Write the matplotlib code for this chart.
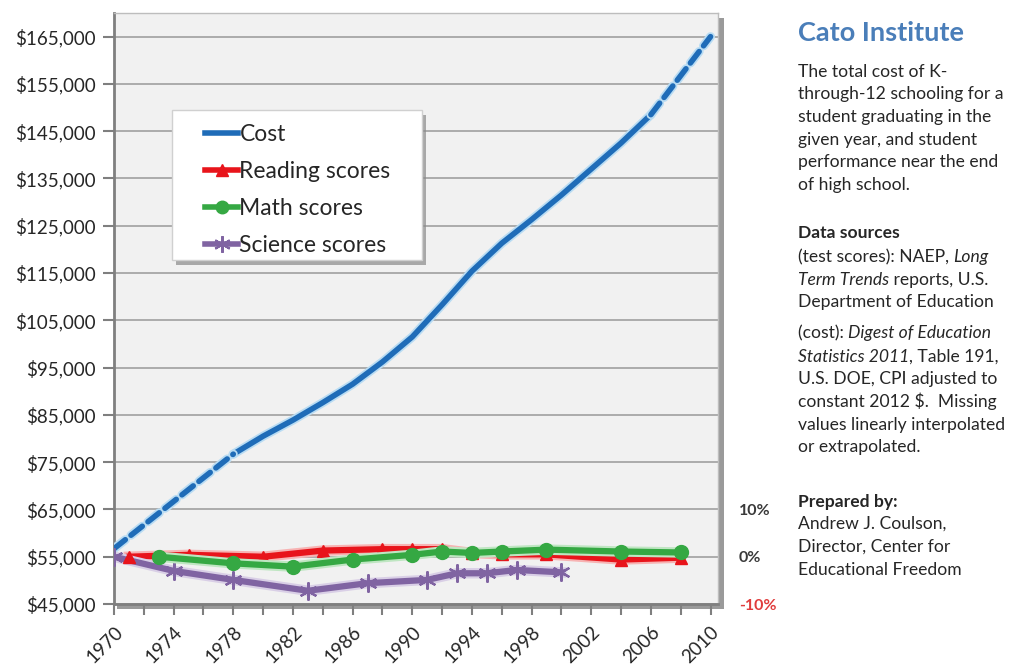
import matplotlib
matplotlib.use("Agg")
import matplotlib.pyplot as plt
import matplotlib.patheffects as pe
from matplotlib.patches import Rectangle
from matplotlib.ticker import FuncFormatter
from matplotlib.lines import Line2D

plt.rcParams['font.family'] = ['Lato', 'DejaVu Sans']

# cost of K-12 schooling (constant 2012 $), dashed where extrapolated
cost_years = [1970, 1978, 1980, 1982, 1984, 1986, 1988, 1990, 1992, 1994,
              1996, 1998, 2000, 2002, 2004, 2006, 2010]
cost_values = [56700, 76700, 80500, 83900, 87600, 91500, 96200, 101500, 108300,
               115400, 121300, 126300, 131500, 137000, 142500, 148500, 165000]
actual_first, actual_last = 1978, 2006

# NAEP long term trend scores, % change from first year
reading_years = [1971, 1975, 1980, 1984, 1988, 1990, 1992, 1994, 1996, 1999, 2004, 2008]
reading_pct = [0.0, 0.4, 0.0, 1.3, 1.6, 1.6, 1.6, 0.8, 0.5, 0.5, -0.6, -0.2]

math_years = [1973, 1978, 1982, 1986, 1990, 1992, 1994, 1996, 1999, 2004, 2008]
math_pct = [0.0, -1.4, -2.1, -0.6, 0.4, 1.1, 0.8, 1.1, 1.5, 1.1, 0.9]

science_years = [1970, 1974, 1978, 1983, 1987, 1991, 1993, 1995, 1997, 2000]
science_pct = [0.0, -3.0, -4.9, -7.2, -5.6, -4.9, -3.5, -3.5, -2.8, -3.3]

cost_ticks = list(range(45000, 170000, 10000))
year_labels = list(range(1970, 2011, 4))
pct_ticks = [-10, 0, 10]
pct_labels = ["-10%", "0%", "10%"]

W, H = 1013, 666
fig = plt.figure(figsize=(W / 100, H / 100), dpi=100)
fig.patch.set_facecolor("white")

# plot area in pixels
left, right, top, bottom = 114, 718, 13, 604
ax = fig.add_axes([left / W, 1 - bottom / H, (right - left) / W, (bottom - top) / H])
ax.set_facecolor("#f1f1f1")
ax.set_xlim(1970, 2010.5)
ax.set_ylim(45000, 170000)

# shadow behind frame
fig.patches.append(Rectangle(((left + 3) / W, 1 - (bottom + 5) / H),
                             (right - left + 3) / W, (bottom - top) / H,
                             transform=fig.transFigure, facecolor="#9a9a9a",
                             edgecolor="none", zorder=-1))

ax.set_yticks(cost_ticks)
ax.yaxis.set_major_formatter(FuncFormatter(lambda v, p: f"${v:,.0f}"))
ax.set_xticks(year_labels)
ax.set_xticks(range(1970, 2011, 2), minor=True)
ax.set_xticklabels([str(y) for y in year_labels], rotation=45, ha="right",
                   va="top", rotation_mode="anchor")
ax.tick_params(axis="y", length=8, width=1.5, color="#7f7f7f", labelsize=13.5,
               labelcolor="#262626", pad=5)
ax.tick_params(axis="x", which="both", length=8, width=1.5, color="#7f7f7f",
               labelsize=13.5, labelcolor="#262626", pad=6)
ax.grid(axis="y", color="#a6a6a6", linewidth=1.3)
ax.set_axisbelow(True)
for s in ["left", "bottom"]:
    ax.spines[s].set_color("#7f7f7f")
    ax.spines[s].set_linewidth(2)
for s in ["top", "right"]:
    ax.spines[s].set_color("#bdbdbd")
    ax.spines[s].set_linewidth(1)


def glow(c, w):
    return [pe.Stroke(linewidth=w, foreground=c), pe.Normal()]


blue = "#1f6cb8"
solid_x = [y for y in cost_years if actual_first <= y <= actual_last]
solid_y = [v for y, v in zip(cost_years, cost_values) if actual_first <= y <= actual_last]
early_x = [y for y in cost_years if y <= actual_first]
early_y = [v for y, v in zip(cost_years, cost_values) if y <= actual_first]
late_x = [y for y in cost_years if y >= actual_last]
late_y = [v for y, v in zip(cost_years, cost_values) if y >= actual_last]

ax.plot(solid_x, solid_y, color=blue, lw=4, solid_capstyle="round",
        path_effects=glow("#b9dcf3", 6.5), zorder=3)
for xs, ys in [(early_x, early_y), (late_x, late_y)]:
    ax.plot(xs, ys, color=blue, lw=4, linestyle=(0, (2.6, 1.3)),
            dash_capstyle="round", path_effects=glow("#b9dcf3", 6.5), zorder=3)

# percent axis on the right
ax2 = ax.twinx()
ax2.set_ylim(-10, 115)
ax2.set_yticks(pct_ticks)
ax2.set_yticklabels(pct_labels, fontweight="bold")
ax2.tick_params(axis="y", length=0, pad=15, labelsize=11.5)
for lab, c in zip(ax2.get_yticklabels(), ["#e03c3c", "#3a3a3a", "#3a3a3a"]):
    lab.set_color(c)
for s in ax2.spines.values():
    s.set_visible(False)

series = [
    (reading_years, reading_pct, "#e8141b", "#f7b3b3", dict(marker="^", markersize=8), 3),
    (science_years, science_pct, "#8064a2", "#d9cfe6",
     dict(marker=(6, 2, 0), markersize=13, markeredgewidth=1.6), 3),
    (math_years, math_pct, "#35a843", "#bfe6c2", dict(marker="o", markersize=10), 4),
]
for xs, ys, c, gc, mk, z in series:
    ax2.plot(xs, ys, color=c, lw=4.5, path_effects=glow(gc, 7.5), zorder=z)
    ax2.plot(xs, ys, color=c, lw=0, zorder=z + 0.1, **mk)

# legend box
lx0, ly0, lx1, ly1 = 172, 110, 422, 260
fig.patches.append(Rectangle(((lx0 + 4) / W, 1 - (ly1 + 5) / H), (lx1 - lx0) / W,
                             (ly1 - ly0) / H, transform=fig.transFigure,
                             facecolor="#8a8a8a", edgecolor="none", alpha=0.7, zorder=5))
fig.patches.append(Rectangle((lx0 / W, 1 - ly1 / H), (lx1 - lx0) / W,
                             (ly1 - ly0) / H, transform=fig.transFigure,
                             facecolor="white", edgecolor="#d0d0d0", zorder=6))
handles = [
    Line2D([], [], color=blue, lw=4),
    Line2D([], [], color="#e8141b", lw=4, marker="^", markersize=8),
    Line2D([], [], color="#35a843", lw=4, marker="o", markersize=9),
    Line2D([], [], color="#8064a2", lw=4, marker=(6, 2, 0), markersize=12,
           markeredgewidth=1.5),
]
leg = fig.legend(handles, ["Cost", "Reading scores", "Math scores", "Science scores"],
                 loc="upper left", bbox_to_anchor=((lx0 + 17) / W, 1 - (ly0 - 2) / H),
                 frameon=False, fontsize=16.5, handlelength=1.45, handletextpad=0.05,
                 labelspacing=0.7, borderpad=0.2)
leg.set_zorder(7)
for t in leg.get_texts():
    t.set_color("#262626")

# side notes
fig.text(798 / W, 1 - 33 / H, "Cato Institute", fontsize=19.5, fontweight="bold",
         color="#4a7eb9", va="center")

plain = {}
ital = {"style": "italic"}
bold = {"fontweight": "bold"}
notes = [
    (72, [("The total cost of K-", plain)]),
    (94, [("through-12 schooling for a", plain)]),
    (117, [("student graduating in the", plain)]),
    (140, [("given year, and student", plain)]),
    (162, [("performance near the end", plain)]),
    (185, [("of high school.", plain)]),
    (233, [("Data sources", bold)]),
    (257, [("(test scores): NAEP, ", plain), ("Long", ital)]),
    (280, [("Term Trends", ital), (" reports, U.S.", plain)]),
    (302, [("Department of Education", plain)]),
    (333, [("(cost): ", plain), ("Digest of Education", ital)]),
    (357, [("Statistics 2011", ital), (", Table 191,", plain)]),
    (379, [("U.S. DOE, CPI adjusted to", plain)]),
    (402, [("constant 2012 $.  Missing", plain)]),
    (425, [("values linearly interpolated", plain)]),
    (447, [("or extrapolated.", plain)]),
    (502, [("Prepared by:", bold)]),
    (524, [("Andrew J. Coulson,", plain)]),
    (547, [("Director, Center for", plain)]),
    (570, [("Educational Freedom", plain)]),
]
renderer = fig.canvas.get_renderer()
for ypix, parts in notes:
    x = 798
    for s, kw in parts:
        t = fig.text(x / W, 1 - (ypix + 5) / H, s, fontsize=12.6, color="#262626",
                     va="baseline", **kw)
        x += t.get_window_extent(renderer).width

fig.savefig("out.png", dpi=100)
